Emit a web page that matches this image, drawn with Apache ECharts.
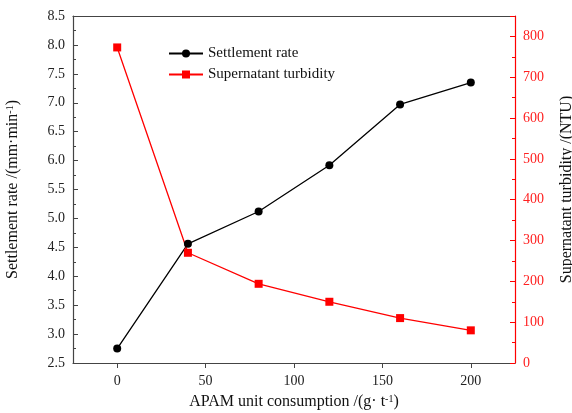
<!DOCTYPE html>
<html>
<head>
<meta charset="utf-8">
<script src="https://cdn.jsdelivr.net/npm/echarts@6/dist/echarts.min.js"></script>
<style>
  html, body { margin: 0; padding: 0; background: #fff; }
  #main { width: 572px; height: 413px; }
</style>
</head>
<body>
<div id="main"></div>
<script>
// APAM dose (g/t)
var dosage = [0, 40, 80, 120, 160, 200];
// settlement rate (mm/min), left axis
var settlementRate = [2.75, 4.56, 5.12, 5.92, 6.97, 7.35];
// supernatant turbidity (NTU), right axis
var turbidity = [773, 270, 194, 150, 110, 80];

var seriesNames = ['Settlement rate', 'Supernatant turbidity'];

function pairs(xs, ys) {
    var out = [];
    for (var i = 0; i < xs.length; i++) {
        out.push([xs[i], ys[i]]);
    }
    return out;
}

var serif = '"Liberation Serif", "Times New Roman", serif';
var axisGray = '#444';

var option = {
    animation: false,
    backgroundColor: '#fff',
    grid: { left: 73, right: 57, top: 16, bottom: 50, outerBoundsMode: 'none', containLabel: false },
    legend: {
        orient: 'vertical',
        left: 163,
        top: 41,
        itemWidth: 34,
        itemHeight: 10,
        itemGap: 6,
        textStyle: { fontFamily: serif, fontSize: 15, color: '#111' },
        data: seriesNames
    },
    xAxis: [{
        type: 'value',
        min: -25, max: 225, interval: 50,
        position: 'bottom',
        name: 'APAM unit consumption /(g· t{s|-1})',
        nameLocation: 'middle',
        nameGap: 31,
        nameTextStyle: {
            fontFamily: serif, fontSize: 16, color: '#111',
            rich: { s: { fontFamily: serif, fontSize: 10, verticalAlign: 'top', color: '#111' } }
        },
        axisLine: { show: true, onZero: false, lineStyle: { color: axisGray, width: 1.2 } },
        axisTick: { show: true, inside: false, length: 5, customValues: [0, 50, 100, 150, 200], lineStyle: { color: axisGray } },
        minorTick: { show: true, splitNumber: 2, length: 3, lineStyle: { color: axisGray } },
        axisLabel: {
            fontFamily: serif, fontSize: 14, color: '#222', margin: 11,
            customValues: [0, 50, 100, 150, 200]
        },
        splitLine: { show: false }
    }, {
        type: 'value',
        min: -25, max: 225,
        position: 'top',
        axisLine: { show: true, onZero: false, lineStyle: { color: axisGray, width: 1.2 } },
        axisTick: { show: false },
        axisLabel: { show: false },
        splitLine: { show: false }
    }],
    yAxis: [{
        type: 'value',
        min: 2.5, max: 8.5, interval: 0.5,
        position: 'left',
        name: 'Settlement rate /(mm·min{s|-1})',
        nameLocation: 'middle',
        nameRotate: 90,
        nameGap: 52,
        nameTextStyle: {
            fontFamily: serif, fontSize: 16, color: '#111',
            rich: { s: { fontFamily: serif, fontSize: 10, verticalAlign: 'top', color: '#111' } }
        },
        axisLine: { show: true, onZero: false, lineStyle: { color: axisGray, width: 1.2 } },
        axisTick: { show: true, inside: true, length: 5, lineStyle: { color: axisGray } },
        minorTick: { show: true, splitNumber: 2, length: 3, lineStyle: { color: axisGray } },
        axisLabel: {
            fontFamily: serif, fontSize: 14, color: '#222', margin: 8,
            formatter: function (v) { return v.toFixed(1); }
        },
        splitLine: { show: false }
    }, {
        type: 'value',
        min: 0, max: 850, interval: 100,
        position: 'right',
        name: 'Supernatant turbidity /(NTU)',
        nameLocation: 'middle',
        nameRotate: 90,
        nameGap: 44,
        nameTextStyle: { fontFamily: serif, fontSize: 16, color: '#111' },
        axisLine: { show: true, onZero: false, lineStyle: { color: '#ff0000', width: 1.2 } },
        axisTick: { show: true, inside: true, length: 5, lineStyle: { color: '#ff0000' } },
        minorTick: { show: true, splitNumber: 2, length: 3, lineStyle: { color: '#ff0000' } },
        axisLabel: {
            fontFamily: serif, fontSize: 14, color: '#ff2020', margin: 8,
            showMaxLabel: false
        },
        splitLine: { show: false }
    }],
    series: [{
        name: seriesNames[0],
        type: 'line',
        yAxisIndex: 0,
        symbol: 'circle',
        symbolSize: 8,
        itemStyle: { color: '#000' },
        lineStyle: { color: '#000', width: 1.3 },
        data: pairs(dosage, settlementRate)
    }, {
        name: seriesNames[1],
        type: 'line',
        yAxisIndex: 1,
        symbol: 'rect',
        symbolSize: 8,
        itemStyle: { color: '#ff0000' },
        lineStyle: { color: '#ff0000', width: 1.3 },
        data: pairs(dosage, turbidity)
    }]
};

var myChart = echarts.init(document.getElementById('main'));
myChart.setOption(option);
</script>
</body>
</html>
